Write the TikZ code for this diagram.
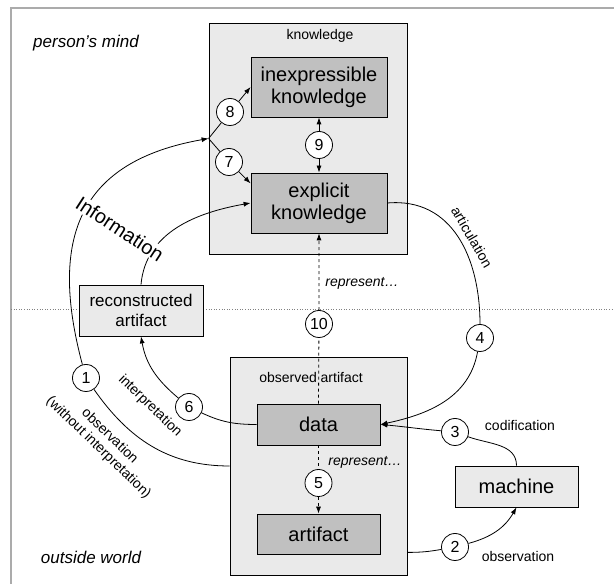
\documentclass[tikz,border=0pt]{standalone}
\usepackage{fontspec}
\setmainfont{Liberation Sans}
\usetikzlibrary{arrows.meta, positioning}
\definecolor{FrameGrey}{HTML}{ABABAB}
\definecolor{LightBox}{HTML}{EAEAEA}
\definecolor{DarkBox}{HTML}{C0C0C0}
\newcommand{\boxfont}{\fontsize{20}{22}\selectfont}
\newcommand{\reconfont}{\fontsize{17}{20}\selectfont}
\newcommand{\lblfont}{\fontsize{14}{16}\selectfont}
\newcommand{\numfont}{\fontsize{16}{18}\selectfont}
\newcommand{\regionfont}{\fontsize{17}{20}\selectfont\itshape}

\begin{document}
\begin{tikzpicture}[x=1pt, y=1pt, >={Latex[length=7pt,width=5pt]}, line width=0.8pt,
  holder/.style={draw, fill=LightBox, inner sep=0pt},
  inner/.style={draw, fill=DarkBox, align=center, font=\boxfont, inner sep=0pt},
  plain/.style={draw, fill=LightBox, align=center, inner sep=0pt},
  num/.style={draw, circle, fill=white, minimum size=27pt, inner sep=0pt, font=\numfont},
  lbl/.style={font=\lblfont, align=center}]
  \useasboundingbox (0,0) rectangle (614,584);
  % frame and split between mind and world
  \draw[FrameGrey, line width=2pt] (11,0) -- (11,576) -- (614,576);
  \draw[gray, dotted, line width=0.6pt] (11,275) -- (614,275);

  \node[font=\regionfont] (mind) at (86,541) {person's mind};
  \node[font=\regionfont] (world) at (91,27) {outside world};

  % knowledge
  \node[holder, minimum width=198pt, minimum height=231pt] (knowbox) at (308,445.5) {};
  \node[lbl] (knowlbl) at (320,548) {knowledge};
  \node[inner, minimum width=136pt, minimum height=60pt] (inexp) at (319,497) {inexpressible\\knowledge};
  \node[inner, minimum width=136pt, minimum height=60pt] (explicit) at (319,381) {explicit\\knowledge};

  % observed artifact
  \node[holder, minimum width=177pt, minimum height=218pt] (obsbox) at (318.5,118) {};
  \node[lbl] (obslbl) at (311,207) {observed artifact};
  \node[inner, minimum width=123pt, minimum height=41pt] (data) at (318.5,159.5) {data};
  \node[inner, minimum width=123pt, minimum height=40pt] (artifact) at (318.5,50) {artifact};

  \node[plain, font=\reconfont, minimum width=124pt, minimum height=51pt] (recon) at (141,273.5) {reconstructed\\artifact};
  \node[plain, font=\boxfont, minimum width=123pt, minimum height=41pt] (machine) at (516.5,97.5) {machine};

  \node[num] (n1) at (86,206) {1};
  \node[num] (n2) at (455,37) {2};
  \node[num] (n3) at (455,152) {3};
  \node[num] (n4) at (480,246) {4};
  \node[num] (n5) at (318.5,101) {5};
  \node[num] (n6) at (189,177) {6};
  \node[num] (n7) at (229,422) {7};
  \node[num] (n8) at (230,472) {8};
  \node[num] (n9) at (319,439) {9};
  \node[num] (n10) at (319,260) {10};
  \coordinate (obsout) at ([yshift=23pt]obsbox.south east);

  % connectors
  \draw[->] (obsbox.west) to[out=180, in=-55] (n1) to[out=105, in=190, looseness=1.3] (knowbox.west);
  \draw[->] (recon.north) to[out=85, in=190] (explicit.west);
  \draw[->] (knowbox.west) -- (n8) -- (inexp.west);
  \draw[->] (knowbox.west) -- (n7) -- (explicit.164);
  \draw[->] (n9) -- (inexp);
  \draw[->] (n9) -- (explicit);
  \draw[->, dashed] (data.north) -- (n10) -- (explicit.south);
  \draw[->, dashed] (data.south) -- (n5) -- (artifact.north);
  \draw[->] (data.west) to[out=180, in=-25] (n6) to[out=140, in=-80] (recon.south);
  \draw[->] (explicit.east) to[out=5, in=90, looseness=1.1] (n4) to[out=-100, in=12] (data.east);
  \draw[->] (machine.north) to[out=90, in=-20] (n3) to[out=175, in=-5] (data.east);
  \draw[->] (obsout) to[out=0, in=190] (n2) to[out=15, in=-120] (machine.south);

  % labels
  \node[font=\boxfont, rotate=-33, fill=white, inner sep=1pt] (info) at (120,355) {Information};
  \node[lbl, font=\lblfont\itshape] (rep1) at (362,301) {represent\dots};
  \node[lbl, font=\lblfont\itshape] (rep2) at (365,122) {represent\dots};
  \node[lbl] (codif) at (520,159) {codification};
  \node[lbl] (obs2) at (518,28) {observation};
  \node[lbl, rotate=-44] (interp) at (150,178) {interpretation};
  \node[lbl, rotate=-44] (obs1) at (104,142) {observation\\(without interpretation)};
  \node[lbl, rotate=-60] (artic) at (472,347) {articulation};
\end{tikzpicture}
\end{document}
